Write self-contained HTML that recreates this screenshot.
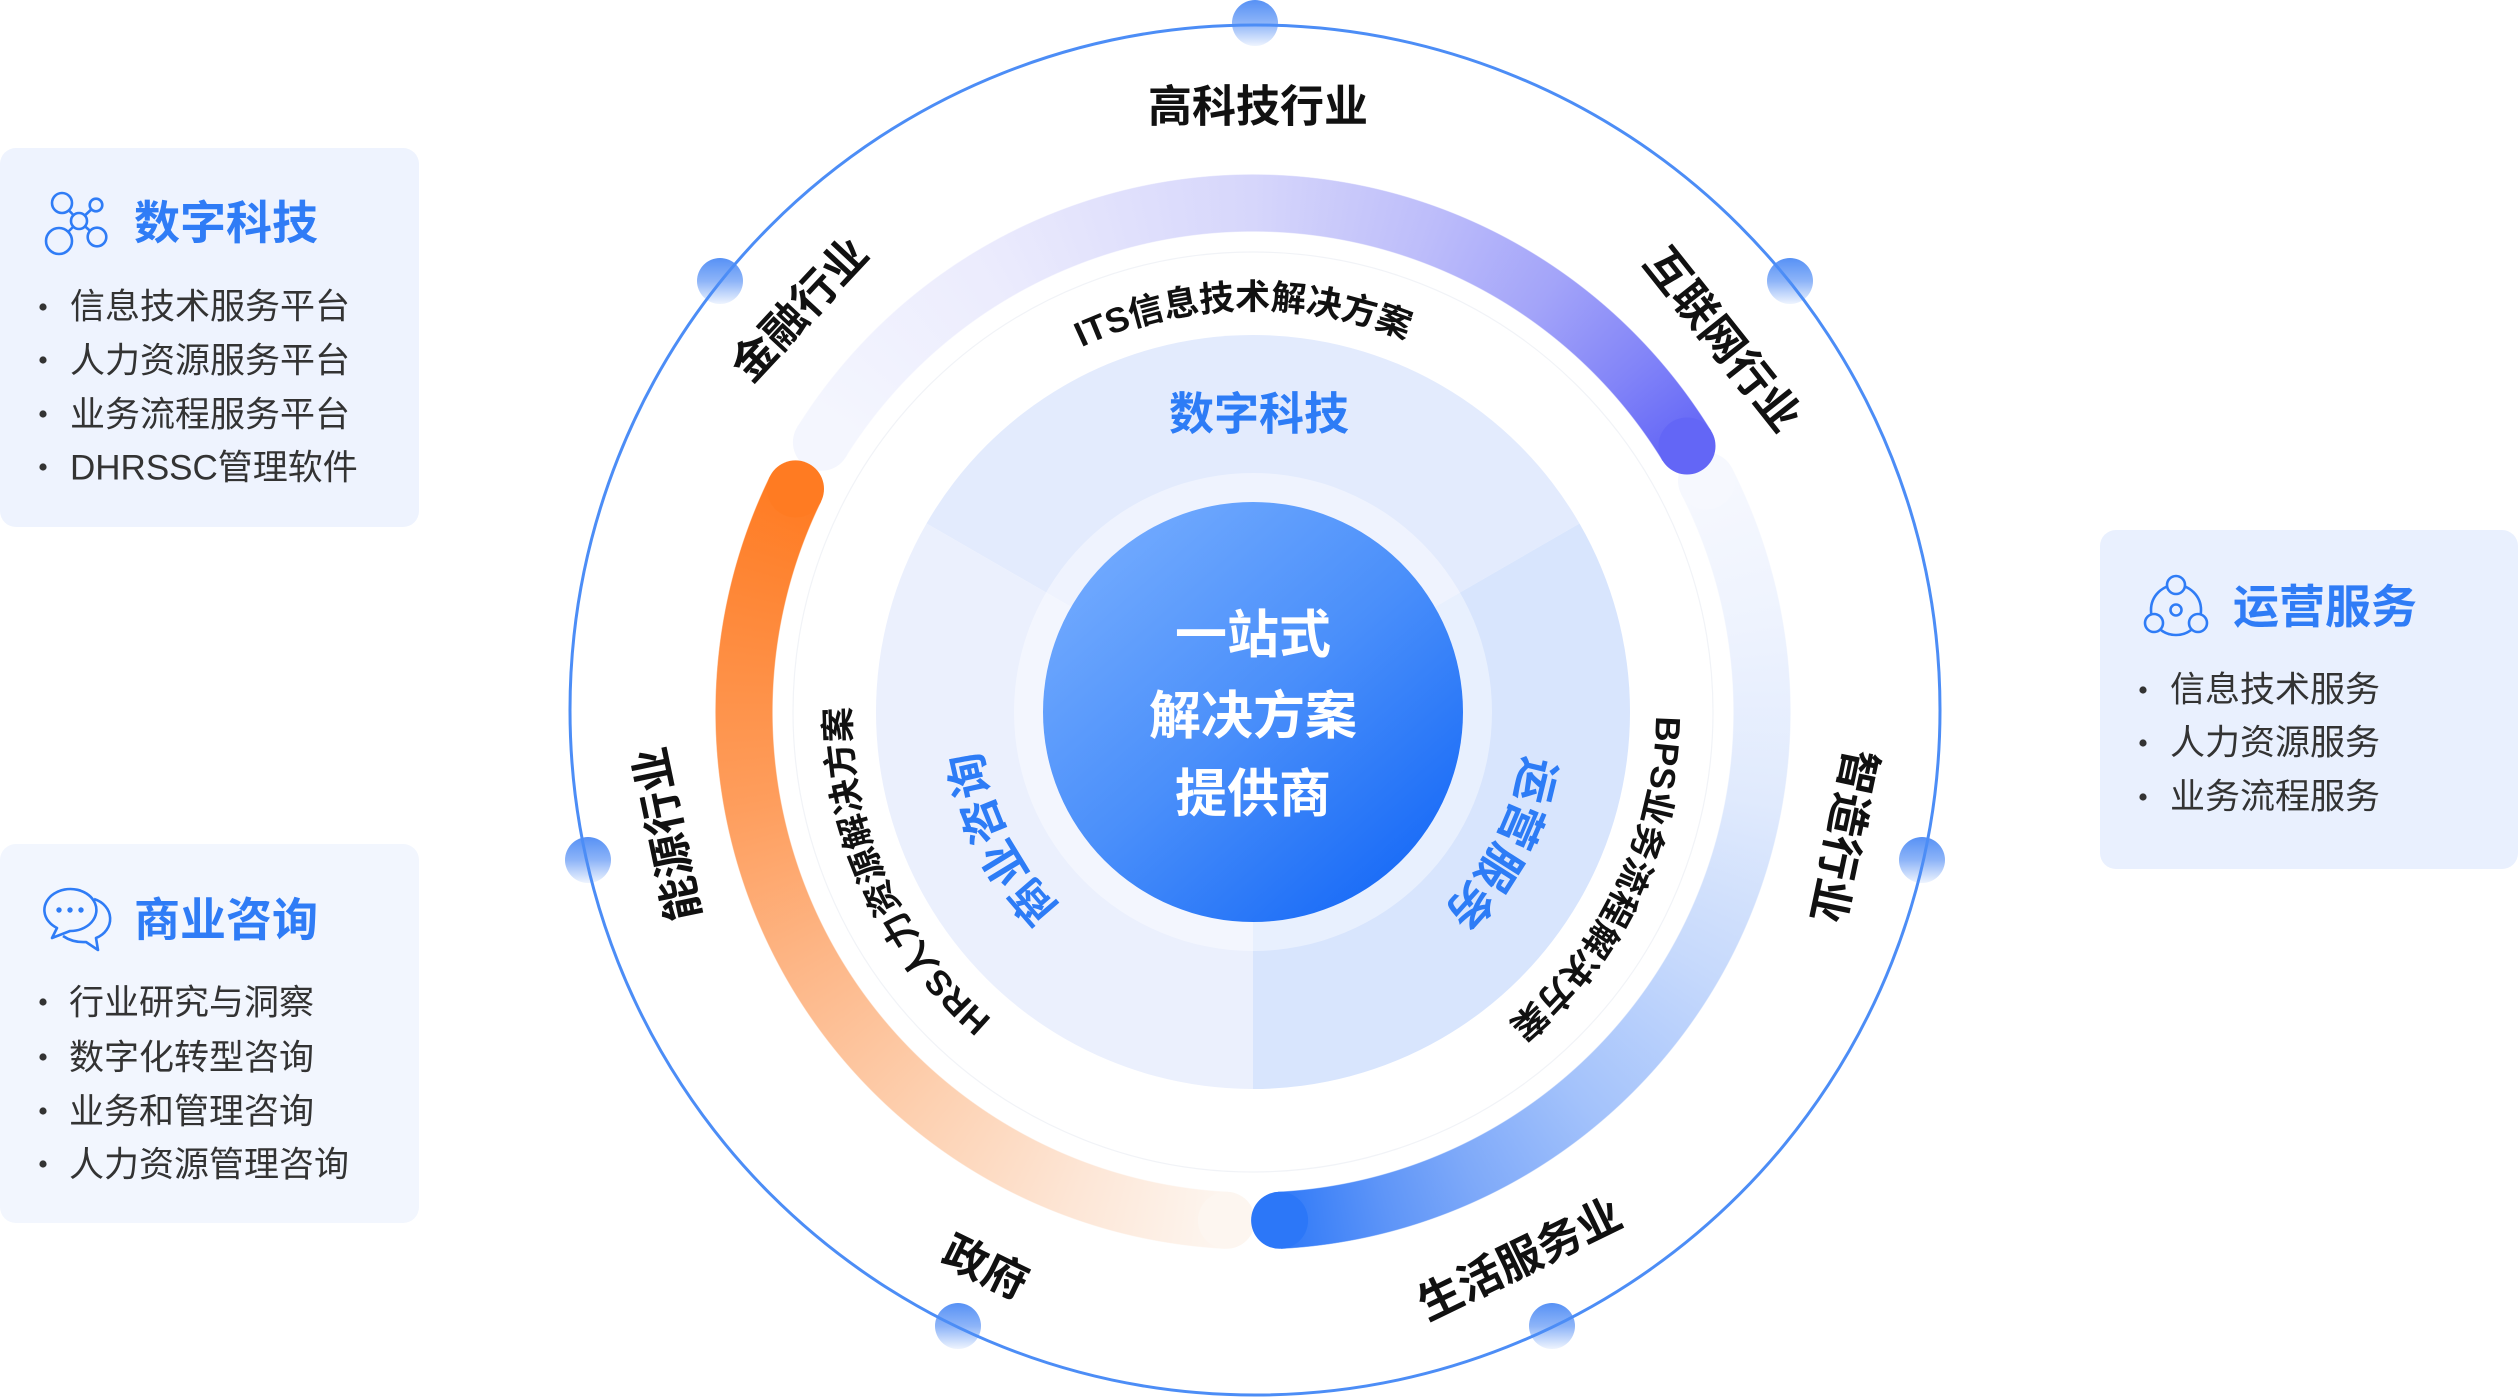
<!DOCTYPE html>
<html>
<head>
<meta charset="utf-8">
<style>
  html,body{margin:0;padding:0;background:#fff;}
  body{width:2520px;height:1400px;position:relative;overflow:hidden;font-family:"Liberation Sans","Noto Sans CJK SC",sans-serif;}
  .band{position:absolute;left:715px;top:174px;width:1076px;height:1076px;border-radius:50%;
    background:conic-gradient(from 0deg at 50% 50%,
      #d6d6fb 0deg,#bdbdfa 20deg,#a3a4f9 35deg,#8284f8 48deg,#6366f6 58.5deg,
      transparent 58.5deg,transparent 63deg,
      #f6f8fe 63deg,#eef3fe 80deg,#e0eafd 100deg,#c6d9fc 120deg,#a3c2fb 140deg,#7ea9f9 155deg,#5e95f8 165deg,#2f79f8 177deg,
      transparent 177deg,transparent 183deg,
      #fdf6f0 183deg,#fde6d6 200deg,#fdd0b0 220deg,#fdb788 240deg,#fe9d5c 260deg,#fe8a3c 280deg,#ff7b22 296deg,
      transparent 296deg,transparent 302deg,
      #f5f7fe 302deg,#ebebfd 330deg,#d6d6fb 360deg);
    -webkit-mask-image:radial-gradient(circle closest-side at 50% 50%,transparent 480px,#000 481px,#000 537px,transparent 538px);
    mask-image:radial-gradient(circle closest-side at 50% 50%,transparent 480px,#000 481px,#000 537px,transparent 538px);
  }
  svg{position:absolute;left:0;top:0;}
  svg text{font-family:"Liberation Sans","Noto Sans CJK SC",sans-serif;}
  .outer{font-size:44px;font-weight:700;fill:#111;}
  .bandt{font-size:35px;font-weight:700;fill:#111;}
  .inner{font-size:45px;font-weight:700;fill:#2d7cf6;}
  .ctr{font-size:52px;font-weight:700;fill:#fff;}
  .ptitle{font-size:46px;font-weight:700;fill:#2f7cf6;}
  .pitem{font-size:35px;font-weight:400;fill:#333;}
</style>
</head>
<body>
<div class="band"></div>
<svg width="2520" height="1400" viewBox="0 0 2520 1400" xmlns="http://www.w3.org/2000/svg">
  <defs>
    <linearGradient id="dotg" x1="0" y1="0" x2="0" y2="1">
      <stop offset="0" stop-color="#5791f5"/>
      <stop offset="0.5" stop-color="#8db4f8"/>
      <stop offset="1" stop-color="#eef4fe"/>
    </linearGradient>
    <linearGradient id="cg" x1="0.15" y1="0.1" x2="0.85" y2="0.9">
      <stop offset="0" stop-color="#70a9fe"/>
      <stop offset="0.5" stop-color="#4a8ffa"/>
      <stop offset="1" stop-color="#1a6cf7"/>
    </linearGradient>
    <path id="pBand" d="M 1253 1115 A 403 403 0 1 1 1253 309 A 403 403 0 1 1 1253 1115"/>
    <path id="pInner" d="M 1253 987 A 275 275 0 1 1 1253 437 A 275 275 0 1 1 1253 987"/>
  </defs>

  <!-- Side panels -->
  <rect x="0" y="148" width="419" height="379" rx="16" fill="#eef3fe"/>
  <rect x="0" y="844" width="419" height="379" rx="16" fill="#f2f6fe"/>
  <rect x="2100" y="530" width="418" height="339" rx="16" fill="#e9f0fe"/>

  <!-- Panel 1 icon (molecule) -->
  <g stroke="#2f7cf6" stroke-width="2.6" fill="none">
    <line x1="79" y1="221" x2="62" y2="203"/>
    <line x1="79" y1="221" x2="96" y2="205"/>
    <line x1="79" y1="221" x2="59" y2="241"/>
    <line x1="79" y1="221" x2="97" y2="237"/>
    <circle cx="62" cy="203" r="10" fill="#eef3fe"/>
    <circle cx="96" cy="205" r="6.3" fill="#eef3fe"/>
    <circle cx="79" cy="221" r="8" fill="#eef3fe"/>
    <circle cx="59" cy="241" r="13" fill="#eef3fe"/>
    <circle cx="97" cy="237" r="9.3" fill="#eef3fe"/>
  </g>
  <text class="ptitle" x="134" y="223" dominant-baseline="central">数字科技</text>
  <g fill="#333">
    <circle cx="43" cy="307" r="3.6"/><circle cx="43" cy="360" r="3.6"/>
    <circle cx="43" cy="414" r="3.6"/><circle cx="43" cy="467" r="3.6"/>
  </g>
  <text class="pitem" x="70" y="307" dominant-baseline="central">信息技术服务平台</text>
  <text class="pitem" x="70" y="361" dominant-baseline="central">人力资源服务平台</text>
  <text class="pitem" x="70" y="415" dominant-baseline="central">业务流程服务平台</text>
  <text class="pitem" x="70" y="468" dominant-baseline="central">DHRSSC管理软件</text>

  <!-- Panel 2 icon (chat) -->
  <g stroke="#2f7cf6" stroke-width="2.6" fill="none" stroke-linejoin="round">
    <path d="M 94 899 A 24 21 0 0 1 96 938 L 98 950 L 86 942 A 30 22 0 0 1 63 936"/>
    <path d="M 57 928 A 26 21 0 1 1 70 931 L 52 938 Z" fill="#f2f6fe"/>
  </g>
  <g fill="#2f7cf6">
    <circle cx="59" cy="910" r="2.7"/><circle cx="70" cy="910" r="2.7"/><circle cx="81" cy="910" r="2.7"/>
  </g>
  <text class="ptitle" x="134" y="920" dominant-baseline="central">商业咨询</text>
  <g fill="#333">
    <circle cx="43" cy="1002" r="3.6"/><circle cx="43" cy="1057" r="3.6"/>
    <circle cx="43" cy="1111" r="3.6"/><circle cx="43" cy="1164" r="3.6"/>
  </g>
  <text class="pitem" x="69" y="1003" dominant-baseline="central">行业研究与洞察</text>
  <text class="pitem" x="69" y="1058" dominant-baseline="central">数字化转型咨询</text>
  <text class="pitem" x="69" y="1112" dominant-baseline="central">业务和管理咨询</text>
  <text class="pitem" x="69" y="1165" dominant-baseline="central">人力资源管理咨询</text>

  <!-- Panel 3 icon -->
  <g stroke="#2f7cf6" stroke-width="2.6" fill="none">
    <circle cx="2176" cy="610" r="25"/>
    <circle cx="2176" cy="585" r="9" fill="#e9f0fe"/>
    <circle cx="2154" cy="623" r="9" fill="#e9f0fe"/>
    <circle cx="2198" cy="623" r="9" fill="#e9f0fe"/>
    <circle cx="2176" cy="610" r="5.5"/>
  </g>
  <text class="ptitle" x="2233" y="607" dominant-baseline="central">运营服务</text>
  <g fill="#333">
    <circle cx="2143" cy="690" r="3.6"/><circle cx="2143" cy="743" r="3.6"/><circle cx="2143" cy="797" r="3.6"/>
  </g>
  <text class="pitem" x="2170" y="690" dominant-baseline="central">信息技术服务</text>
  <text class="pitem" x="2170" y="743" dominant-baseline="central">人力资源服务</text>
  <text class="pitem" x="2170" y="797" dominant-baseline="central">业务流程服务</text>

  <!-- Outer dots -->
  <g fill="url(#dotg)">
    <circle cx="1255" cy="23" r="23"/>
    <circle cx="1790" cy="281" r="23"/>
    <circle cx="1922" cy="860" r="23"/>
    <circle cx="1552" cy="1326" r="23"/>
    <circle cx="958" cy="1326" r="23"/>
    <circle cx="588" cy="860" r="23"/>
    <circle cx="720" cy="281" r="23"/>
  </g>
  <!-- Outer circle -->
  <circle cx="1255" cy="710" r="685" fill="none" stroke="#4c8df6" stroke-width="3"/>

  <!-- Outer labels -->
  <g class="outer" text-anchor="middle" dominant-baseline="central">
    <text transform="translate(1258,107)" dominant-baseline="central">高科技行业</text>
    <text transform="translate(1722,340) rotate(51.5)" dominant-baseline="central">互联网行业</text>
    <text transform="translate(1843,836) rotate(101.9)" dominant-baseline="central">智造行业</text>
    <text transform="translate(1520,1260) rotate(-25.9)" dominant-baseline="central">生活服务业</text>
    <text transform="translate(985,1268) rotate(25.8)" dominant-baseline="central">政府</text>
    <text transform="translate(668,834) rotate(-101.8)" dominant-baseline="central">能源行业</text>
    <text transform="translate(800,310) rotate(-47)" dominant-baseline="central">金融行业</text>
  </g>

  <!-- Band caps -->
  <circle cx="1706.5" cy="480.9" r="28.5" fill="#f6f8fe"/>
  <circle cx="821.4" cy="442.3" r="28.5" fill="#f4f6fe"/>
  <circle cx="1226.4" cy="1220.3" r="28.5" fill="#fdf6f0"/>
  <circle cx="1687" cy="446" r="28.5" fill="#6366f6"/>
  <circle cx="1279.6" cy="1220.3" r="28.5" fill="#2c77f8"/>
  <circle cx="795.5" cy="488.9" r="28.5" fill="#ff7b22"/>

  <!-- faint thin circle -->
  <circle cx="1253" cy="712" r="460" fill="none" stroke="#f1f3f7" stroke-width="1.2"/>

  <!-- Band labels -->
  <text class="bandt" text-anchor="middle"><textPath href="#pBand" startOffset="1255.5">ITS信息技术解决方案</textPath></text>
  <text class="bandt" text-anchor="middle"><textPath href="#pBand" startOffset="460.7">HRS人力资源解决方案</textPath></text>
  <text class="bandt" text-anchor="middle"><textPath href="#pBand" startOffset="2078.5">BPS业务流程解决方案</textPath></text>

  <!-- Disc sectors -->
  <path d="M 1253 712 L 926.5 523.5 A 377 377 0 0 1 1579.5 523.5 Z" fill="#e3ebfd"/>
  <path d="M 1253 712 L 1579.5 523.5 A 377 377 0 0 1 1253 1089 Z" fill="#d8e5fd"/>
  <path d="M 1253 712 L 1253 1089 A 377 377 0 0 1 926.5 523.5 Z" fill="#ebf0fd"/>

  <!-- Ring + center -->
  <circle cx="1253" cy="712" r="239" fill="#ffffff" fill-opacity="0.42"/>
  <circle cx="1253" cy="712" r="210" fill="url(#cg)"/>

  <!-- Inner labels -->
  <text class="inner" x="1259" y="414" text-anchor="middle" dominant-baseline="central">数字科技</text>
  <text class="inner" text-anchor="middle"><textPath href="#pInner" startOffset="1428.5">运营服务</textPath></text>
  <text class="inner" text-anchor="middle"><textPath href="#pInner" startOffset="303.8">商业咨询</textPath></text>

  <!-- Center text -->
  <text class="ctr" x="1253" y="636" text-anchor="middle" dominant-baseline="central">一站式</text>
  <text class="ctr" x="1253" y="717" text-anchor="middle" dominant-baseline="central">解决方案</text>
  <text class="ctr" x="1253" y="795" text-anchor="middle" dominant-baseline="central">提供商</text>
</svg>
</body>
</html>
